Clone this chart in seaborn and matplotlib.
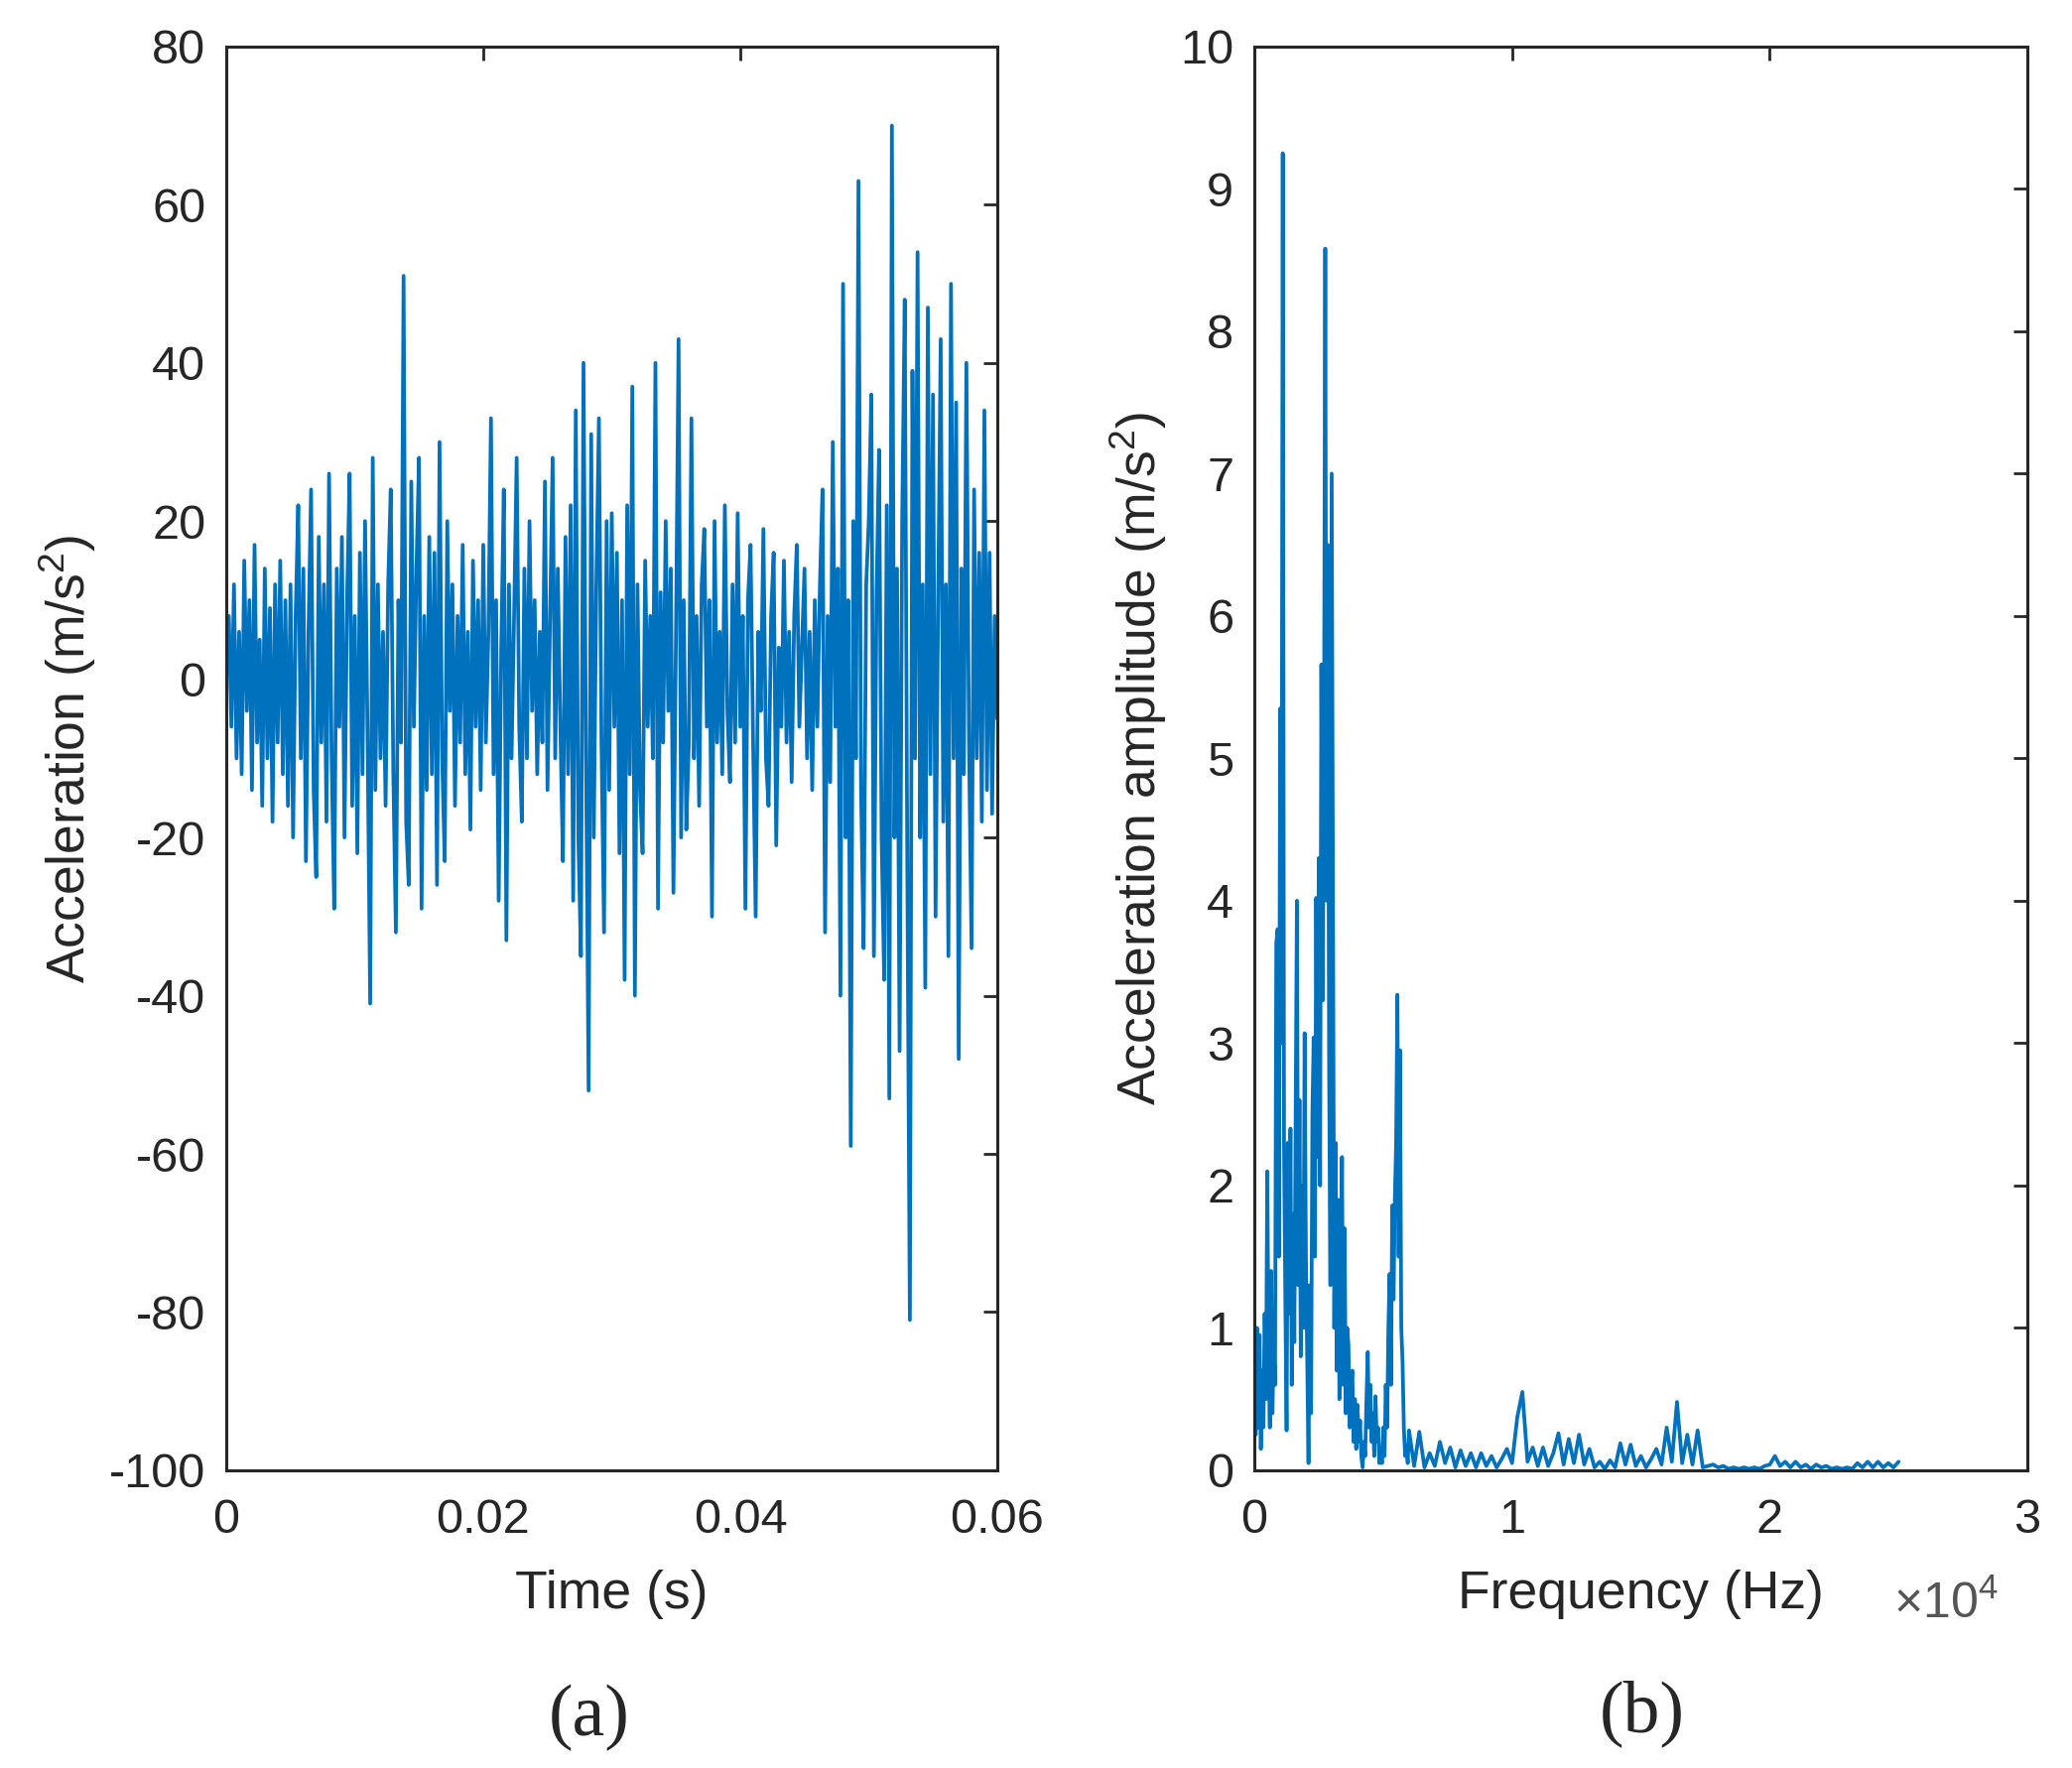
import numpy as np
import pandas as pd
import matplotlib
matplotlib.use("Agg")
import matplotlib.pyplot as plt
import seaborn as sns
from matplotlib.ticker import FuncFormatter, MultipleLocator

dt = 0.0002
acc = [
    0, 8, -6, 12, -10, 6, -12, 15, -4, 10, -14, 17, -8, 5, -16, 14, -10, 9, -18, 12,
    -8, 15, -12, 10, -16, 12, -20, 8, 22, -10, 14, -23, 6, 24, -14, -25, 18, -8, 12, -18,
    26, -10, -29, 14, -6, 18, -20, 10, 26, -16, 8, -22, 16, -12, 20, -8, -41, 28, -14, 12,
    -10, 6, -16, 12, 24, -12, -32, 10, -8, 51, -18, -26, 25, -6, 14, 28, -29, 8, -14, 18,
    -12, 16, -26, 30, -10, -23, 20, -4, 12, -16, 8, -8, 17, -12, 6, -19, 15, -6, 10, -14,
    17, -8, 6, 33, -12, 10, -28, 4, 24, -33, 12, -10, 8, 28, -6, -18, 14, -10, 20, -4,
    10, -12, 6, -8, 25, -14, 8, 28, -10, 14, -6, -23, 18, -12, 22, -28, 34, -20, -35, 40,
    -10, -52, 31, -20, 12, 33, -8, -32, 20, -14, 21, -6, 16, -22, 10, -38, 22, -12, 37, -40,
    12, -14, -22, 15, -6, 8, -10, 40, -29, 11, -8, 20, -4, 14, -27, 6, 43, -20, 10, -19,
    -8, 33, -10, 8, -16, 12, 19, -6, 10, -30, 20, -8, 6, -12, 22, -4, -13, 12, -8, 21,
    -6, 8, -29, 10, 17, -8, -30, 6, -4, 19, -10, -16, 8, 16, -21, 4, -6, 15, -8, 6,
    -13, 8, 17, -6, 4, 14, -10, 6, -14, 10, -6, 12, 24, -32, 8, -13, 30, -6, 14, -40,
    50, -20, 10, -59, 20, -10, 63, -14, -34, 12, 20, 36, -35, 10, 29, -20, -38, 22, -53, 70,
    -20, 14, -47, 20, 48, -24, -81, 39, -10, 54, -20, 12, -39, 47, -12, 36, -30, 10, 43, -18,
    12, -35, 50, -10, 35, -48, 14, -12, 40, -8, -34, 24, -10, 16, -18, 34, -14, 16, -17, 8, -5,
]

# (b) spectrum: 0-5950 Hz every 50 Hz, then 6000-25000 Hz every 200 Hz
df_low, df_high, f_high0 = 50, 200, 6000
amp_low = [
    0.9, 0.25, 1.0, 0.3, 0.95, 0.15, 0.7, 0.3, 1.1, 0.5,
    2.1, 0.8, 0.3, 1.4, 0.4, 0.9, 0.6, 3.7, 3.8, 1.5,
    5.35, 3.0, 9.25, 2.3, 1.2, 0.28, 2.3, 1.1, 2.4, 0.6,
    1.8, 0.9, 2.5, 4.0, 1.3, 2.6, 0.8, 2.0, 1.0, 3.07,
    1.5, 0.8, 0.05, 1.3, 0.4, 2.5, 3.04, 1.5, 4.02, 2.2,
    4.3, 2.0, 5.66, 3.3, 5.0, 8.58, 4.0, 6.5, 2.8, 1.3,
    7.0, 4.1, 1.0, 2.3, 0.7, 1.9, 0.5, 1.2, 2.2, 0.6,
    1.7, 0.4, 1.0, 0.88, 0.3, 0.6, 0.7, 0.2, 0.5, 0.15,
    0.46, 0.2, 0.35, 0.1, 0.02, 0.2, 0.1, 0.5, 0.83, 0.3,
    0.6, 0.2, 0.4, 0.1, 0.52, 0.2, 0.3, 0.05, 0.15, 0.05,
    0.3, 0.1, 0.6, 0.3, 1.0, 1.38, 0.6, 1.86, 1.2, 1.9,
    2.3, 3.34, 1.5, 2.95, 1.0, 0.76, 0.3, 0.1, 0.17, 0.05,
]
amp_high = [
    0.28, 0.03, 0.27, 0.02, 0.12, 0.03, 0.20, 0.05, 0.16, 0.02,
    0.14, 0.03, 0.12, 0.02, 0.12, 0.03, 0.10, 0.02, 0.08, 0.15,
    0.05, 0.37, 0.55, 0.06, 0.16, 0.03, 0.16, 0.03, 0.12, 0.26,
    0.04, 0.22, 0.05, 0.25, 0.04, 0.15, 0.02, 0.06, 0.01, 0.07,
    0.02, 0.19, 0.04, 0.18, 0.03, 0.10, 0.02, 0.08, 0.15, 0.04,
    0.30, 0.06, 0.48, 0.05, 0.25, 0.04, 0.28, 0.02, 0.03, 0.04,
    0.02, 0.03, 0.01, 0.02, 0.01, 0.02, 0.01, 0.02, 0.01, 0.03,
    0.04, 0.10, 0.03, 0.06, 0.02, 0.06, 0.02, 0.04, 0.01, 0.04,
    0.02, 0.03, 0.01, 0.02, 0.01, 0.02, 0.01, 0.05, 0.02, 0.06,
    0.02, 0.06, 0.02, 0.05, 0.02, 0.06,
]

sig = pd.DataFrame({"t": np.arange(len(acc)) * dt, "a": acc})
spec = pd.DataFrame({
    "f": np.concatenate([np.arange(len(amp_low)) * df_low,
                         f_high0 + np.arange(len(amp_high)) * df_high]),
    "amp": amp_low + amp_high,
})

sns.set_theme(style="white")
plt.rcParams.update({
    "font.family": ["Liberation Sans", "DejaVu Sans"],
    "mathtext.fontset": "custom",
    "mathtext.rm": "Liberation Sans",
    "mathtext.it": "Liberation Sans:italic",
    "mathtext.bf": "Liberation Sans:bold",
    "axes.unicode_minus": False,
})

BLUE = "#0072BD"
DARK = "#262626"

fig = plt.figure(figsize=(20.88, 17.82), dpi=100)
ax1 = fig.add_axes([0.1092, 0.1684, 0.3721, 0.8053])
ax2 = fig.add_axes([0.6054, 0.1684, 0.3731, 0.8053])

sns.lineplot(data=sig, x="t", y="a", ax=ax1, color=BLUE, linewidth=2.7,
             estimator=None, sort=False)
sns.lineplot(data=spec, x="f", y="amp", ax=ax2, color=BLUE, linewidth=2.7,
             estimator=None, sort=False)

ax1.set_xlim(0, 0.06)
ax1.set_ylim(-100, 80)
ax1.xaxis.set_major_locator(MultipleLocator(0.02))
ax1.yaxis.set_major_locator(MultipleLocator(20))
ax1.xaxis.set_major_formatter(FuncFormatter(lambda v, p: "0" if v == 0 else f"{v:g}"))
ax1.set_xlabel("Time (s)", fontsize=38.5, color=DARK, labelpad=20)
ax1.set_ylabel("Acceleration (m/s$^2$)", fontsize=38.5, color=DARK, labelpad=8)

ax2.set_xlim(0, 30000)
ax2.set_ylim(0, 10)
ax2.xaxis.set_major_locator(MultipleLocator(10000))
ax2.yaxis.set_major_locator(MultipleLocator(1))
ax2.xaxis.set_major_formatter(FuncFormatter(lambda v, p: f"{v / 1e4:g}"))
ax2.set_xlabel("Frequency (Hz)", fontsize=38.5, color=DARK, labelpad=20)
ax2.set_ylabel("Acceleration amplitude (m/s$^2$)", fontsize=38.5, color=DARK, labelpad=8)
ax2.text(0.962, -0.078, r"$\times10^4$", transform=ax2.transAxes, ha="right", va="top",
         fontsize=36, color="#555555")

for ax in (ax1, ax2):
    for s in ax.spines.values():
        s.set_color(DARK)
        s.set_linewidth(2.2)
    ax.tick_params(axis="both", direction="in", length=10, width=2, top=True,
                   right=True, labelsize=35, colors=DARK)
    ax.tick_params(axis="x", pad=20)
    ax.tick_params(axis="y", pad=15)

fig.text(0.2845, 0.0285, "(a)", fontsize=53, family="Liberation Serif", ha="center", va="center")
fig.text(0.7926, 0.0308, "(b)", fontsize=53, family="Liberation Serif", ha="center", va="center")

fig.savefig("out.png", dpi=100)
